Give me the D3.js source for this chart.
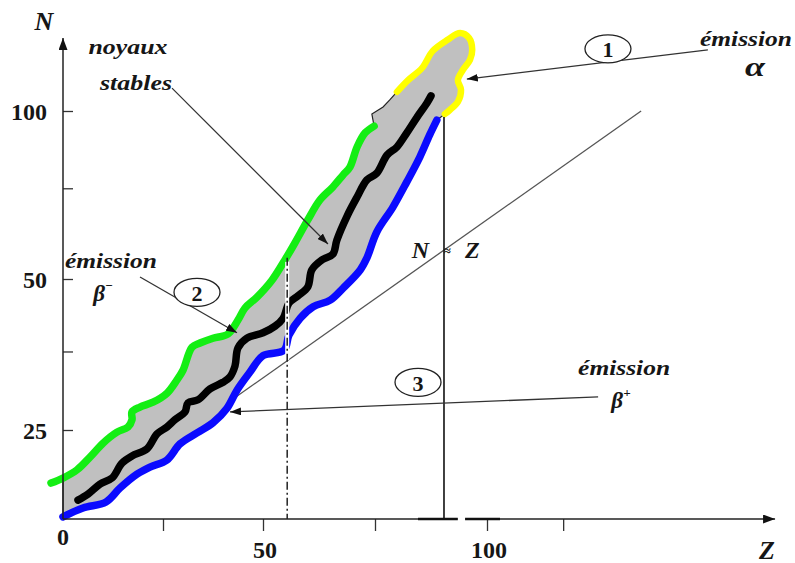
<!DOCTYPE html>
<html>
<head>
<meta charset="utf-8">
<script src="https://cdn.jsdelivr.net/npm/d3@7"></script>
<style>
  body { margin: 0; background: #fff; }
  svg { display: block; }
  text { font-family: "Liberation Serif", "DejaVu Serif", serif; font-weight: bold; fill: #161616; }
  .it { font-style: italic; }
</style>
</head>
<body>
<svg id="chart" width="795" height="563"></svg>
<script>
// valley of stability, points as [Z, N]
const upperLimit = [[-3, 10.1], [0, 11.5], [3.5, 13.8], [6.75, 17.4], [10, 21.3], [13.5, 24.4], [16.25, 25.5],
  [17.25, 26.7], [17.25, 28.0], [19.25, 28.8], [22.5, 29.6], [26, 31.1], [28.5, 33.3], [30, 34.9],
  [32.25, 38.7], [34.25, 39.4], [37.5, 40.2], [41.25, 40.9], [43.75, 43.2], [45.5, 45.2], [48.5, 47.0],
  [52.0, 49.8], [54.9, 55.7], [57.1, 60.7], [60.0, 67.6], [62.7, 73.5], [65.6, 77.4], [67.9, 81.0],
  [69.4, 83.3], [71.0, 89.3], [72.8, 93.5], [74.8, 95.5]];
const lowerLimit = [[0, 0.6], [5, 3.1], [10.75, 4.8], [14.25, 8.7], [18.5, 12.6], [21.75, 14.6], [26, 16.6],
  [29.25, 21.1], [33.5, 24.2], [37.5, 26.2], [41, 28.6], [43.5, 31.6], [46.75, 34.6], [50, 37.3],
  [54.7, 38.2], [55.8, 40.7], [58.3, 43.5], [61.2, 45.4], [65.0, 46.5], [67.9, 48.5], [71.7, 52.7],
  [73.2, 56.3], [75.4, 64.0], [79.0, 71.4], [82.1, 78.9], [85.0, 86.3], [87.2, 92.9], [88.8, 97.3]];
const stableLine = [[3.75, 5.3], [6.25, 7.0], [9.25, 9.8], [12.25, 11.5], [14.75, 15.7], [17.25, 17.7],
  [21, 19.7], [23.5, 23.9], [26, 25.5], [28, 26.7], [30.5, 28.0], [31.25, 29.5], [33.75, 30.0],
  [36.75, 31.8], [40, 32.9], [41.75, 33.8], [43, 35.6], [43.75, 38.6], [46, 40.2], [50, 41.1],
  [52.7, 42.2], [54.5, 43.5], [55.8, 46.0], [57.8, 47.2], [60.0, 48.7], [60.9, 52.7], [63.2, 55.7],
  [65.6, 57.4], [66.5, 61.6], [68.8, 68.8], [71.0, 74.4], [73.2, 79.5], [75.4, 81.5], [77.7, 86.9],
  [79.9, 89.3], [82.1, 93.5], [84.4, 98.2], [86.6, 102.4], [87.5, 104.5]];
const bandTopEdge = [[74.3, 99.1], [76.8, 101.2], [78.3, 103.3]];
const alphaCap = [[79.9, 105.7], [82.4, 109.2], [85.5, 112.8], [87.9, 117.9], [91.1, 121.1], [94.0, 123.2],
  [96.0, 121.7], [96.7, 118.2], [96.2, 115.2], [94.6, 112.2], [93.5, 109.2], [94.2, 106.3],
  [93.5, 102.7], [91.7, 100.3], [90.6, 99.1]];
const nzLine = [[0, 0], [134.4, 100]];
const ironZ = 55.4;
const ironSpan = [56.3, 0];
const ironGap = [55.1, 36.6];
const heavyZ = 90.4;
const heavyTop = 98.2;

const xTicks = [25, 50, 75, 100, 117];
const xTickLabels = [50, 100];
const yTicks = [25, 38, 50, 77, 100];
const yTickLabels = [25, 50, 100];
const xEnd = 164.3;
const yEnd = 121.7;
const axisBracket = [[84.6, 93.5], [95.1, 102.9]];

// callouts (Z, N)
const callouts = [
  {from: [149.3, 118.2], to: [95.5, 109.5], tag: "1", tagAt: [127.0, 118.5]},
  {from: [19.25, 50.6], to: [43.5, 41.1], tag: "2", tagAt: [33.5, 47.8]},
  {from: [124.8, 30.5], to: [41.75, 28.0], tag: "3", tagAt: [84.6, 32.9]},
  {from: [27.25, 106.8], to: [64.5, 60.4]}
];
const labels = [
  {text: "noyaux", at: [16.25, 119.0], w: 79, size: 21},
  {text: "stables", at: [18.25, 108.3], w: 72, size: 21},
  {text: "émission", at: [157.8, 121.4], w: 92, size: 21},
  {text: "α", at: [159.8, 113.1], w: 20, size: 27},
  {text: "émission", at: [12, 55.3], w: 92, size: 21},
  {text: "émission", at: [130.6, 35.3], w: 92, size: 21}
];
const betas = [
  {sign: "−", at: [10, 47.6]},
  {sign: "+", at: [129.9, 29.9]}
];

const svg = d3.select("#chart");
const x = d3.scaleLinear().domain([0, 50, 100]).range([63, 263, 487]);
const y = d3.scaleLinear().domain([0, 25, 50, 100]).range([519, 430, 279, 111]);

const defs = svg.append("defs");
defs.append("marker").attr("id", "tip")
  .attr("viewBox", "0 0 10 7").attr("refX", 10).attr("refY", 3.5)
  .attr("markerUnits", "userSpaceOnUse").attr("markerWidth", 11).attr("markerHeight", 8)
  .attr("orient", "auto")
  .append("path").attr("d", "M0,0 L10,3.5 L0,7 Z").attr("fill", "#111");
defs.append("marker").attr("id", "axisTip")
  .attr("viewBox", "0 0 12 9").attr("refX", 12).attr("refY", 4.5)
  .attr("markerUnits", "userSpaceOnUse").attr("markerWidth", 13).attr("markerHeight", 9)
  .attr("orient", "auto")
  .append("path").attr("d", "M0,0 L12,4.5 L0,9 Z").attr("fill", "#111");

const line = d3.line().x(d => x(d[0])).y(d => y(d[1]));
const smooth = d3.line().x(d => x(d[0])).y(d => y(d[1])).curve(d3.curveCatmullRom.alpha(0.5));

// N = Z reference line (under the band)
svg.append("path").attr("d", line(nzLine))
  .attr("fill", "none").attr("stroke", "#555").attr("stroke-width", 1.3);

// grey band
const band = upperLimit.filter(d => d[0] >= 0).concat(bandTopEdge, alphaCap, lowerLimit.slice().reverse());
svg.append("path").attr("d", line.curve(d3.curveLinearClosed)(band))
  .attr("fill", "#c0c0c0").attr("stroke", "#222").attr("stroke-width", 1.2);
line.curve(d3.curveLinear);

const strokes = [
  {pts: upperLimit, color: "#14ee14", w: 7.5},
  {pts: lowerLimit, color: "#0a0aff", w: 7.5},
  {pts: stableLine, color: "#000", w: 7.5},
  {pts: alphaCap, color: "#ffff00", w: 6.5}
];
svg.selectAll(".limit").data(strokes).join("path")
  .attr("class", "limit")
  .attr("d", d => smooth(d.pts))
  .attr("fill", "none")
  .attr("stroke", d => d.color)
  .attr("stroke-width", d => d.w)
  .attr("stroke-linejoin", "round")
  .attr("stroke-linecap", "round");

// dash-dot line at the iron peak
svg.append("line")
  .attr("x1", x(ironZ)).attr("x2", x(ironZ))
  .attr("y1", y(ironGap[0])).attr("y2", y(ironGap[1]))
  .attr("stroke", "#fff").attr("stroke-width", 4);
svg.append("line")
  .attr("x1", x(ironZ)).attr("x2", x(ironZ))
  .attr("y1", y(ironSpan[0])).attr("y2", y(ironSpan[1]))
  .attr("stroke", "#222").attr("stroke-width", 1.5)
  .attr("stroke-dasharray", "8,3,2,3");

// solid vertical at the heavy end
svg.append("line")
  .attr("x1", x(heavyZ)).attr("x2", x(heavyZ))
  .attr("y1", y(heavyTop)).attr("y2", y(0))
  .attr("stroke", "#111").attr("stroke-width", 1.6);

// callout arrows and numbered ellipses
svg.selectAll(".callout").data(callouts).join("line")
  .attr("class", "callout")
  .attr("x1", d => x(d.from[0])).attr("y1", d => y(d.from[1]))
  .attr("x2", d => x(d.to[0])).attr("y2", d => y(d.to[1]))
  .attr("stroke", "#333").attr("stroke-width", 1.3)
  .attr("marker-end", "url(#tip)");
const tags = svg.selectAll(".tag").data(callouts.filter(d => d.tag)).join("g")
  .attr("class", "tag")
  .attr("transform", d => `translate(${x(d.tagAt[0])},${y(d.tagAt[1])})`);
tags.append("ellipse").attr("rx", 23).attr("ry", 14)
  .attr("fill", "#fff").attr("stroke", "#222").attr("stroke-width", 1.3);
tags.append("text").text(d => d.tag)
  .attr("text-anchor", "middle").attr("dominant-baseline", "central")
  .attr("y", 1).style("font-size", "22px");

// word labels
svg.selectAll(".word").data(labels).join("text")
  .attr("class", "word it")
  .attr("x", d => x(d.at[0])).attr("y", d => y(d.at[1]))
  .attr("text-anchor", "middle").attr("dominant-baseline", "central")
  .attr("textLength", d => d.w).attr("lengthAdjust", "spacingAndGlyphs")
  .style("font-size", d => d.size + "px")
  .text(d => d.text);
const beta = svg.selectAll(".beta").data(betas).join("text")
  .attr("class", "beta it")
  .attr("x", d => x(d.at[0])).attr("y", d => y(d.at[1]))
  .attr("text-anchor", "middle").attr("dominant-baseline", "central")
  .style("font-size", "23px");
beta.append("tspan").text("β");
beta.append("tspan").text(d => d.sign).attr("dy", -8).style("font-size", "13px");

// N ≈ Z
const nz = svg.append("text").attr("class", "it")
  .attr("x", x(90.8)).attr("y", y(58.6))
  .attr("text-anchor", "middle").attr("dominant-baseline", "central")
  .attr("textLength", 68).attr("lengthAdjust", "spacing")
  .style("font-size", "24px");
nz.append("tspan").text("N");
nz.append("tspan").text("≈").style("font-size", "13px");
nz.append("tspan").text("Z");

// axes
const gx = svg.append("g").attr("transform", `translate(0,${y(0)})`)
  .call(d3.axisBottom(x).tickValues(xTicks).tickSize(12).tickFormat(""));
const gy = svg.append("g").attr("transform", `translate(${x(0)},0)`)
  .call(d3.axisRight(y).tickValues(yTicks).tickSize(10).tickFormat(""));
[gx, gy].forEach(g => {
  g.select(".domain").remove();
  g.selectAll(".tick line").attr("stroke", "#333").attr("stroke-width", 1.3);
});
svg.append("line")
  .attr("x1", x(0)).attr("y1", y(0)).attr("x2", x(xEnd)).attr("y2", y(0))
  .attr("stroke", "#222").attr("stroke-width", 1.5).attr("marker-end", "url(#axisTip)");
svg.append("line")
  .attr("x1", x(0)).attr("y1", y(0)).attr("x2", x(0)).attr("y2", y(yEnd))
  .attr("stroke", "#222").attr("stroke-width", 1.5).attr("marker-end", "url(#axisTip)");
svg.selectAll(".bracket").data(axisBracket).join("line")
  .attr("class", "bracket")
  .attr("x1", d => x(d[0])).attr("x2", d => x(d[1]))
  .attr("y1", y(0)).attr("y2", y(0))
  .attr("stroke", "#111").attr("stroke-width", 2.6);
svg.append("line")
  .attr("x1", x(axisBracket[0][1])).attr("x2", x(axisBracket[1][0]))
  .attr("y1", y(0)).attr("y2", y(0))
  .attr("stroke", "#fff").attr("stroke-width", 4);

// tick labels
svg.selectAll(".ylab").data(yTickLabels).join("text")
  .attr("class", "ylab")
  .attr("x", x(0) - 16).attr("y", d => y(d) + 1)
  .attr("text-anchor", "end").attr("dominant-baseline", "central")
  .style("font-size", "24px")
  .text(d => d);
svg.selectAll(".xlab").data(xTickLabels).join("text")
  .attr("class", "xlab")
  .attr("x", d => x(d) + 2).attr("y", y(0) + 31)
  .attr("text-anchor", "middle").attr("dominant-baseline", "central")
  .style("font-size", "24px")
  .text(d => d);
svg.append("text").text("0")
  .attr("x", x(0)).attr("y", y(0) + 18)
  .attr("text-anchor", "middle").attr("dominant-baseline", "central")
  .style("font-size", "24px");
svg.append("text").attr("class", "it").text("N")
  .attr("x", x(0) - 19).attr("y", 21)
  .attr("text-anchor", "middle").attr("dominant-baseline", "central")
  .style("font-size", "26px");
svg.append("text").attr("class", "it").text("Z")
  .attr("x", x(xEnd) - 8).attr("y", y(0) + 31)
  .attr("text-anchor", "middle").attr("dominant-baseline", "central")
  .style("font-size", "26px");
</script>
</body>
</html>
